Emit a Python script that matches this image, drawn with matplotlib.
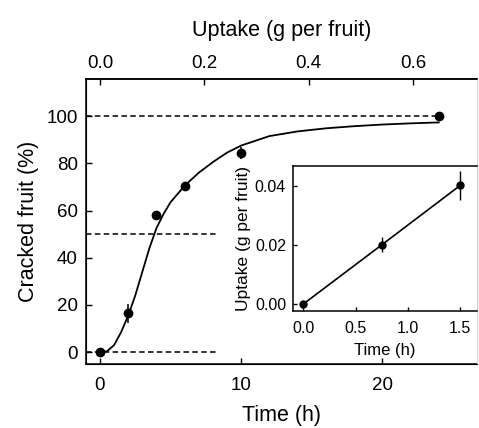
import numpy as np
import matplotlib
matplotlib.use("Agg")
import matplotlib.pyplot as plt

plt.rcParams["font.family"] = ["Liberation Sans", "DejaVu Sans"]

# cracking data (main panel)
t_obs = [0, 2, 4, 6, 10, 24]
crack_obs = [0, 16.4, 58.3, 70.3, 84.2, 100.2]
crack_err = [0, 4.0, 1.0, 1.0, 2.5, 0]

# fitted curve
t_fit = [0, 0.5, 1, 1.5, 2, 2.5, 3, 3.5, 4, 4.5, 5, 6, 7, 8, 9, 10,
         12, 14, 16, 18, 20, 22, 24]
crack_fit = [0, 0.4, 3, 8.5, 15.5, 24, 34, 44, 52.5, 58.5, 63.5, 70.5, 76,
             80.5, 84.5, 87.5, 91.5, 93.5, 94.8, 95.7, 96.4, 96.9, 97.3]

# reference levels (dashed)
ref_levels = [100, 50, 0]
ref_end = [24, 8.2, 8.4]

# inset: water uptake
t_up = [0, 0.75, 1.5]
uptake = [0, 0.0201, 0.0403]
uptake_err = [0, 0.0026, 0.005]

fig = plt.figure(figsize=(4.79, 4.28), dpi=100)
ax = fig.add_axes([0.1795, 0.1495, 0.816, 0.666])

for lev, xe in zip(ref_levels, ref_end):
    ax.plot([-0.99, xe], [lev, lev], color="k", lw=1.1, dashes=(3.6, 2.2))
ax.plot(t_fit, crack_fit, color="k", lw=1.3)
ax.errorbar(t_obs, crack_obs, yerr=crack_err, fmt="o", color="k",
            ms=6, elinewidth=1.1, capsize=0, zorder=5)

ax.set_xlim(-0.99, 26.7)
ax.set_ylim(-5, 115.7)
ax.set_xticks([0, 10, 20])
ax.set_yticks([0, 20, 40, 60, 80, 100])
ax.tick_params(direction="in", length=4, width=1, labelsize=13.5)
ax.tick_params(axis="x", pad=9)
ax.tick_params(axis="y", pad=6)
ax.set_xlabel("Time (h)", fontsize=15.5, labelpad=8)
ax.set_ylabel("Cracked fruit (%)", fontsize=15.5, labelpad=5)
for s in ("left", "bottom", "top"):
    ax.spines[s].set_linewidth(1.1)
ax.spines["right"].set_color("0.85")

# top axis: uptake scale
ax_top = ax.twiny()
ax_top.set_xlim(-0.0268, 0.7226)
ax_top.set_xticks([0.0, 0.2, 0.4, 0.6])
ax_top.set_xticklabels(["0.0", "0.2", "0.4", "0.6"])
ax_top.tick_params(direction="in", length=4, width=1, labelsize=13.5, pad=5)
ax_top.set_xlabel("Uptake (g per fruit)", fontsize=15.5, labelpad=14)
ax_top.spines["top"].set_linewidth(1.1)
ax_top.spines["right"].set_color("0.85")

# inset
ins = fig.add_axes([0.6117, 0.2734, 0.384, 0.3388])
ins.plot(t_up, uptake, color="k", lw=1.2)
ins.errorbar(t_up, uptake, yerr=uptake_err, fmt="o", color="k",
             ms=5, elinewidth=1.0, capsize=0, zorder=5)
ins.set_xlim(-0.10, 1.66)
ins.set_ylim(-0.0024, 0.0469)
ins.set_xticks([0.0, 0.5, 1.0, 1.5])
ins.set_xticklabels(["0.0", "0.5", "1.0", "1.5"])
ins.set_yticks([0.0, 0.02, 0.04])
ins.set_yticklabels(["0.00", "0.02", "0.04"])
ins.tick_params(direction="in", length=3, width=1, labelsize=11.5)
ins.tick_params(axis="x", pad=7)
ins.tick_params(axis="y", pad=5)
ins.set_xlabel("Time (h)", fontsize=12, labelpad=5)
ins.set_ylabel("Uptake (g per fruit)", fontsize=12.5, labelpad=3)
for s in ("left", "bottom", "top"):
    ins.spines[s].set_linewidth(1.1)
ins.spines["right"].set_color("0.8")

fig.savefig("out.png", dpi=100)
